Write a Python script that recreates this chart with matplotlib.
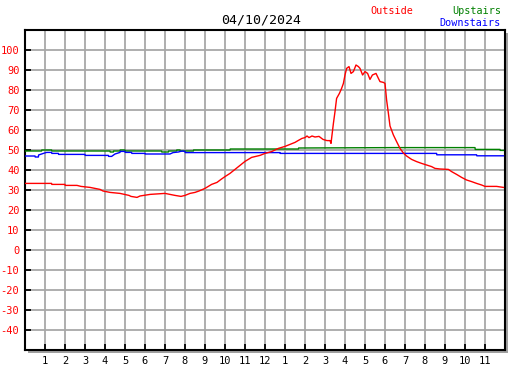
import matplotlib
matplotlib.use("Agg")
import matplotlib.pyplot as plt
from matplotlib.patches import Rectangle

# --- data (hour of day, temperature) ---
outside_h = [0.0, 1.33, 1.34, 2.0, 2.01, 2.6, 2.8, 3.25, 3.5, 3.75, 3.9, 4.25, 4.75, 5.2, 5.3, 5.6,
             5.75, 6.25, 7.0, 7.5, 7.8, 8.0, 8.25, 8.5, 8.7, 9.0, 9.33, 9.6, 9.8, 10.0, 10.25,
             10.5, 10.75, 11.0, 11.33, 11.75, 12.0, 12.33, 12.67, 13.0, 13.25, 13.5, 13.67, 13.85,
             14.0, 14.1, 14.2, 14.35, 14.5, 14.7, 14.9, 15.1, 15.25, 15.3, 15.42, 15.5, 15.58,
             15.72, 15.83, 15.92, 16.0, 16.08, 16.2, 16.3, 16.42, 16.55, 16.67, 16.75, 16.88,
             17.0, 17.13, 17.25, 17.37, 17.55, 17.67, 17.75, 17.92, 18.0, 18.08, 18.17, 18.25,
             18.42, 18.58, 18.75, 18.92, 19.08, 19.33, 19.58, 19.83, 20.08, 20.33, 20.5, 20.75,
             21.17, 21.33, 21.58, 21.83, 22.08, 22.33, 22.58, 22.83, 23.0, 23.58, 23.92]
outside_v = [33.3, 33.3, 32.8, 32.8, 32.3, 32.3, 31.8, 31.3, 30.8, 30.3, 29.5, 28.8, 28.3, 27.3,
             26.8, 26.3, 27.0, 27.8, 28.3, 27.3, 26.8, 27.3, 28.3, 28.8, 29.5, 30.8, 32.8, 33.8,
             35.3, 36.7, 38.3, 40.3, 42.3, 44.3, 46.3, 47.3, 48.3, 49.2, 50.8, 51.8, 52.8, 53.8,
             54.8, 55.8, 56.2, 57.0, 56.2, 57.0, 56.5, 56.8, 55.3, 54.7, 54.7, 53.3, 63.3, 69.2,
             75.8, 78.3, 80.8, 83.3, 87.5, 90.8, 91.7, 88.3, 89.2, 92.5, 91.7, 90.8, 87.5, 89.2,
             88.3, 85.3, 87.5, 88.3, 85.8, 84.2, 83.8, 83.3, 75.0, 68.3, 62.0, 57.5, 54.2, 50.8,
             48.5, 47.0, 45.3, 44.2, 43.3, 42.5, 41.7, 40.8, 40.5, 40.3, 39.2, 37.8, 36.3, 35.0,
             34.2, 33.3, 32.5, 31.8, 31.8, 31.3]

upstairs_h = [0.0, 0.83, 0.84, 1.33, 1.34, 4.25, 4.26, 4.42, 4.43, 4.75, 4.76, 5.0, 5.01, 6.83,
              6.84, 7.17, 7.18, 7.58, 7.59, 7.75, 7.76, 8.42, 8.43, 10.25, 10.26, 11.0, 11.01,
              13.67, 13.68, 18.5, 22.5, 22.51, 23.75, 23.76, 23.92]
upstairs_v = [49.5, 49.5, 50.0, 50.0, 49.5, 49.5, 49.0, 49.0, 49.5, 49.5, 50.0, 50.0, 49.5, 49.5,
              49.0, 49.0, 49.5, 49.5, 50.0, 50.0, 49.5, 49.5, 50.0, 50.0, 50.5, 50.5, 50.5,
              50.5, 51.0, 51.2, 51.2, 50.3, 50.3, 49.8, 49.8]

downstairs_h = [0.0, 0.5, 0.51, 0.67, 0.68, 0.92, 1.08, 1.33, 1.34, 1.67, 1.68, 3.0, 3.01, 4.17,
                4.18, 4.33, 4.5, 4.75, 4.76, 5.0, 5.01, 5.33, 5.34, 6.0, 6.01, 7.25, 7.4, 7.67,
                7.85, 8.0, 8.01, 12.75, 12.76, 20.58, 20.59, 22.58, 22.59, 23.92]
downstairs_v = [47.0, 47.0, 46.5, 46.5, 47.5, 48.3, 48.8, 48.8, 48.3, 48.3, 47.8, 47.8, 47.3, 47.3,
                46.8, 46.8, 48.0, 48.8, 49.3, 49.3, 48.8, 48.8, 48.3, 48.3, 48.0, 48.0, 48.7,
                49.0, 49.5, 49.3, 48.7, 48.7, 48.3, 48.3, 47.6, 47.6, 47.1, 47.1]

hour_ticks = list(range(1, 24))
hour_labels = [str(h if h <= 12 else h - 12) for h in hour_ticks]
temp_ticks = list(range(-40, 101, 10))

W, H = 527, 370
fig = plt.figure(figsize=(W / 100, H / 100), dpi=100)
fig.patch.set_facecolor("white")

# plot box in pixels: left 25, right 505, top 30, bottom 350
left, right, top, bottom = 25, 505, 30, 350
ax_rect = [left / W, (H - bottom) / H, (right - left) / W, (bottom - top) / H]

# grey drop shadow behind the box
fig.patches.append(Rectangle(((left + 3) / W, (H - bottom - 3) / H), (right - left) / W,
                             (bottom - top) / H, transform=fig.transFigure,
                             facecolor="#a0a0a0", edgecolor="none", zorder=0))

ax = fig.add_axes(ax_rect)
ax.set_facecolor("white")
ax.set_zorder(1)

ax.plot(outside_h, outside_v, color="red", lw=1.0, zorder=4)
ax.plot(upstairs_h, upstairs_v, color="#008000", lw=1.0, zorder=3)
ax.plot(downstairs_h, downstairs_v, color="blue", lw=1.0, zorder=3)

ax.set_xlim(0, 24)
ax.set_ylim(-50, 110)
ax.set_xticks(hour_ticks)
ax.set_xticklabels(hour_labels)
ax.set_yticks(temp_ticks)
ax.set_yticklabels([str(t) for t in temp_ticks])
ax.grid(True, color="#a8a8a8", lw=1.3, zorder=0)
ax.set_axisbelow(True)

ax.tick_params(direction="in", length=4, width=1.3, color="black", pad=4)
ax.tick_params(axis="y", labelcolor="red", labelsize=7.5)
ax.tick_params(axis="x", labelcolor="black", labelsize=7.5)
for lbl in ax.get_xticklabels() + ax.get_yticklabels():
    lbl.set_family("DejaVu Sans Mono")
for sp in ax.spines.values():
    sp.set_color("black")
    sp.set_linewidth(1.5)

mono = "DejaVu Sans Mono"
fig.text(261 / W, 1 - 20 / H, "04/10/2024", ha="center", va="center", fontsize=9.5,
         family=mono, color="black")
fig.text(370 / W, 1 - 11 / H, "Outside", ha="left", va="center", fontsize=7.3,
         family=mono, color="red")
fig.text(501 / W, 1 - 11 / H, "Upstairs", ha="right", va="center", fontsize=7.3,
         family=mono, color="#008000")
fig.text(501 / W, 1 - 23 / H, "Downstairs", ha="right", va="center", fontsize=7.3,
         family=mono, color="blue")

fig.savefig("out.png", dpi=100)
